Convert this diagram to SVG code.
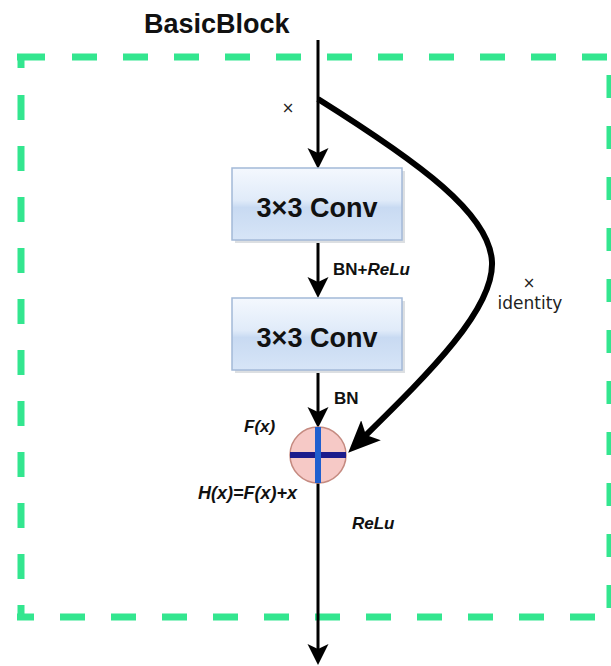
<svg xmlns="http://www.w3.org/2000/svg" width="611" height="666" viewBox="0 0 611 666">
  <style>
    .frame { stroke: #33e68f; stroke-width: 7; fill: none; }
    .wire { stroke: #000; stroke-width: 3; fill: none; }
    .skip { stroke: #000; stroke-width: 6; fill: none; }
    .box { fill: url(#boxFill); stroke: #a3b9d8; stroke-width: 1.5; }
    .shadow { fill: #9aa3ad; opacity: 0.35; }
    .boxText { font-family: "Liberation Sans", Arial, sans-serif; font-weight: bold; font-size: 27px; fill: #111; text-anchor: middle; }
    .lbl { font-family: "Liberation Sans", Arial, sans-serif; font-weight: bold; font-size: 17px; fill: #111; }
    .it { font-style: italic; }
    .thin { font-family: "DejaVu Sans", sans-serif; font-size: 15px; fill: #222; }
  </style>
  <defs>
    <linearGradient id="boxFill" x1="0" y1="0" x2="0" y2="1">
      <stop offset="0" stop-color="#f4f8fe"/>
      <stop offset="0.45" stop-color="#e0ebf9"/>
      <stop offset="0.55" stop-color="#c8daf2"/>
      <stop offset="1" stop-color="#d7e5f7"/>
    </linearGradient>
    <marker id="head" markerUnits="userSpaceOnUse" viewBox="0 -11 21 22" markerWidth="21" markerHeight="22" refX="10" refY="0" orient="auto">
      <path d="M0,-10.5 L21,0 L0,10.5 L5,0 Z" fill="#000"/>
    </marker>
    <marker id="bigHead" markerUnits="userSpaceOnUse" viewBox="0 -15 32 30" markerWidth="32" markerHeight="30" refX="14" refY="0" orient="auto">
      <path d="M0,-14 L32,0 L0,14 L7,0 Z" fill="#000"/>
    </marker>
  </defs>

  <rect width="611" height="666" fill="#fff"/>

  <!-- dashed block outline -->
  <g id="block-frame">
    <line class="frame" x1="17" y1="57" x2="45" y2="57"/>
    <line class="frame" x1="72" y1="57" x2="611" y2="57" stroke-dasharray="25 26"/>
    <line class="frame" x1="21" y1="57" x2="21" y2="68"/>
    <line class="frame" x1="21" y1="95" x2="21" y2="620" stroke-dasharray="25 26"/>
    <line class="frame" x1="17" y1="617" x2="34" y2="617"/>
    <line class="frame" x1="60" y1="617" x2="600" y2="617" stroke-dasharray="25 26"/>
    <line class="frame" x1="610" y1="75" x2="610" y2="612" stroke-dasharray="23 28"/>
  </g>

  <text id="title" x="144" y="33" font-family="'Liberation Sans', Arial, sans-serif" font-weight="bold" font-size="27" fill="#111">BasicBlock</text>

  <!-- connectors -->
  <g id="connectors">
    <line class="wire" x1="318" y1="40" x2="318" y2="158" marker-end="url(#head)"/>
    <line class="wire" x1="318" y1="243" x2="318" y2="287" marker-end="url(#head)"/>
    <line class="wire" x1="318" y1="373" x2="318" y2="417" marker-end="url(#head)"/>
    <line class="wire" x1="318" y1="483" x2="318" y2="654" marker-end="url(#head)"/>
    <path class="skip" d="M318,99 C420,163 490,214 492,262 C494,310 428,374 361,440" marker-end="url(#bigHead)"/>
  </g>

  <g id="conv1">
    <rect class="shadow" x="235" y="171" width="170" height="72"/>
    <rect class="box" x="232" y="168" width="170" height="72"/>
    <text class="boxText" x="317" y="217">3×3 Conv</text>
  </g>

  <g id="conv2">
    <rect class="shadow" x="235" y="301" width="170" height="72"/>
    <rect class="box" x="232" y="298" width="170" height="72"/>
    <text class="boxText" x="317" y="347">3×3 Conv</text>
  </g>

  <g id="add">
    <circle cx="318" cy="455" r="28" fill="#f6c9c6" stroke="#c58a80" stroke-width="1.5"/>
    <line x1="290" y1="455" x2="346" y2="455" stroke="#1c1c8c" stroke-width="6"/>
    <line x1="318" y1="427" x2="318" y2="483" stroke="#1f5fcf" stroke-width="6"/>
  </g>

  <!-- labels -->
  <g id="labels">
    <text class="thin" x="288" y="113" text-anchor="middle">×</text>
    <text class="lbl" x="333" y="275">BN+<tspan class="it">ReLu</tspan></text>
    <text class="lbl" x="334" y="404">BN</text>
    <text class="lbl it" x="244" y="432">F(x)</text>
    <text class="lbl it" x="198" y="499" style="font-size:18px">H(x)=F(x)+x</text>
    <text class="lbl it" x="352" y="529">ReLu</text>
    <text class="thin" x="529" y="288" text-anchor="middle">×</text>
    <text class="thin" x="530" y="309" text-anchor="middle" style="font-size:17px">identity</text>
  </g>
</svg>
